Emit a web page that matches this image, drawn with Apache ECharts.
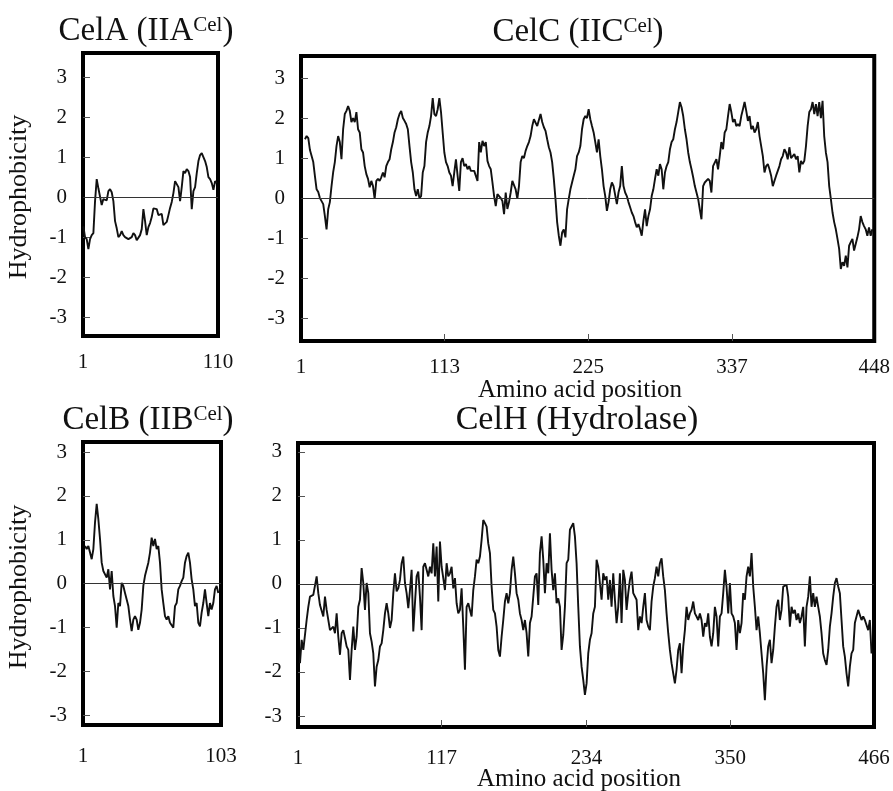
<!DOCTYPE html>
<html>
<head>
<meta charset="utf-8">
<script src="https://cdn.jsdelivr.net/npm/echarts@6/dist/echarts.min.js"></script>
<style>
	html, body { margin: 0; padding: 0; background: #fff; }
	#chart { width: 893px; height: 791px; }
</style>
</head>
<body>
<div id="chart"></div>
<script>
// hydrophobicity traces at even steps along each sequence
const celaValues = [
	-0.73, -1.0, -1.05, -1.3, -1.05, -0.95, -0.9, -0.1, 0.45, 0.22,
	0.25, -0.2, -0.05, -0.05, -0.08, 0.15, 0.2, 0.12, -0.1, -0.6,
	-0.78, -1.0, -0.95, -0.85, -0.95, -1.0, -1.03, -1.05, -1.05, -1.0,
	-0.9, -0.95, -1.08, -1.05, -0.95, -0.8, -0.3, -0.6, -0.95, -0.75,
	-0.65, -0.5, -0.28, -0.28, -0.3, -0.45, -0.45, -0.42, -0.7, -0.7,
	-0.62, -0.45, -0.27, -0.12, 0.1, 0.4, 0.4, 0.25, -0.1, 0.25,
	0.65, 0.6, 0.7, 0.65, 0.5, -0.3, 0.15, 0.25, 0.6, 0.9,
	1.05, 1.1, 1.0, 0.9, 0.75, 0.5, 0.45, 0.35, 0.18, 0.4, 0.35,
]
const celcValues = [
	1.47, 1.55, 1.5, 1.2, 1.05, 0.9, 0.55, 0.22, 0.15, 0.0,
	-0.03, -0.15, -0.45, -0.78, -0.28, -0.1, 0.3, 0.65, 0.9, 1.3,
	1.55, 1.4, 0.97, 1.72, 2.1, 2.18, 2.3, 2.18, 1.9, 2.0,
	1.9, 2.15, 1.72, 1.64, 1.22, 1.14, 0.8, 0.6, 0.48, 0.27,
	0.43, 0.3, -0.02, 0.43, 0.48, 0.43, 0.52, 0.64, 0.52, 0.8,
	0.9, 0.97, 1.22, 1.4, 1.64, 1.77, 1.97, 2.1, 2.18, 2.0,
	1.93, 1.85, 1.72, 1.3, 0.9, 0.64, 0.22, 0.05, 0.22, 0.0,
	0.05, 0.64, 0.8, 1.4, 1.64, 1.8, 2.05, 2.5, 2.1, 2.05,
	2.22, 2.5, 2.15, 1.64, 1.14, 0.9, 0.8, 0.64, 0.56, 0.3,
	0.64, 0.97, 0.56, 0.18, 0.9, 1.0, 0.8, 0.85, 0.72, 0.8,
	0.68, 0.72, 0.68, 0.68, 0.43, 1.4, 1.14, 1.43, 1.3, 1.4,
	0.93, 0.8, 0.72, 0.39, 0.05, -0.2, 0.1, 0.1, 0.0, -0.07,
	-0.4, 0.14, -0.27, -0.1, 0.14, 0.43, 0.39, 0.22, -0.02, 0.3,
	0.9, 1.05, 1.0, 1.18, 1.3, 1.4, 1.55, 1.8, 1.97, 2.0,
	1.8, 1.8, 2.1, 1.9, 1.77, 1.68, 1.47, 1.27, 1.14, 0.9,
	0.48, -0.02, -0.6, -0.94, -1.19, -0.86, -0.78, -0.98, -0.28, -0.02,
	0.22, 0.39, 0.56, 0.72, 1.05,
	1.14, 1.3, 1.72, 1.97, 2.05, 2.0, 2.22, 1.97, 1.8, 1.64,
	1.4, 1.14, 1.47, 1.05, 0.72, 0.3, 0.05, -0.32, -0.1, 0.22,
	0.39, 0.3, 0.3, -0.15, 0.14, 0.3, 0.8, 0.3, 0.14, 0.05,
	-0.1, -0.23, -0.36, -0.45, -0.6, -0.73, -0.65, -0.78, -0.94, -0.57,
	-0.28, -0.7, -0.45, -0.28, 0.05, 0.22, 0.48, 0.72, 0.56, 0.85,
	0.72, 0.22, 0.64, 0.8, 0.9, 1.22, 1.4, 1.47, 1.72, 1.9,
	2.15, 2.4, 2.27, 2.05, 1.72, 1.47, 1.14, 0.9, 0.72, 0.52,
	0.3, 0.14, -0.02, -0.28, -0.53, 0.3, 0.39, 0.43, 0.48, 0.43,
	0.14, 0.8, 0.8, 0.97, 0.72, 1.05, 1.4, 1.22, 1.64, 1.72,
	2.05, 2.35, 2.15, 1.9, 1.97, 1.8, 1.85, 1.8, 2.05, 2.22,
	2.4, 2.18, 1.93, 2.05, 1.72, 1.8, 1.64, 1.72, 1.9, 1.55,
	1.3, 1.05, 0.64, 0.8, 0.85, 0.72, 0.56, 0.3, 0.43, 0.56,
	0.56, 0.8, 0.97, 1.05, 1.22, 1.14, 0.97, 1.27, 1.0, 1.05,
	1.1, 0.97, 1.05, 0.64, 0.93, 0.85, 0.93, 1.3, 1.8, 2.15,
	2.22, 2.4, 2.1, 2.35, 2.05, 2.4, 2.0, 2.43, 1.55, 1.14,
	0.9, 0.3, -0.02, -0.36, -0.6, -0.78, -1.02, -1.27, -1.77, -1.6,
	-1.69, -1.44, -1.73, -1.19, -1.1, -1.02, -1.31, -1.27, -0.98, -0.78,
	-0.45, -0.6, -0.7, -0.78, -0.94, -0.73, -0.94, -0.78,
]
const celbValues = [
	0.86, 0.79, 0.86, 0.71, 0.56, 0.79, 1.4, 1.82, 1.47, 1.02,
	0.48, 0.29, 0.29, 0.14, 0.33, -0.13, 0.29, -0.28, -0.51, -1.0,
	-0.44, -0.51, 0.02, -0.05, -0.21, -0.36, -0.51, -0.82, -1.08, -0.82,
	-0.74, -0.82, -1.05, -0.89, -0.59, -0.05, 0.18, 0.33, 0.48, 0.71,
	1.05, 0.86, 1.02, 0.79, 0.86, 0.48, -0.13, -0.44, -0.74, -0.82,
	-0.74, -0.89, -0.93, -1.0, -0.51, -0.44, -0.13, -0.05, 0.06, 0.14,
	0.48, 0.63, 0.71, 0.48, 0.1, -0.13, -0.51, -0.44, -0.89, -0.97,
	-0.66, -0.44, -0.13, -0.44, -0.74, -0.44, -0.59, -0.44, -0.13, -0.05, -0.21,
]
const celhValues = [
	-1.8, -1.27, -1.5, -1.5, -0.82, -0.52, -0.29, -0.25, -0.25, -0.25,
	0.17, -0.21, -0.48, -0.44, -0.74, -0.29, -0.59, -0.59, -1.05, -1.05,
	-0.97, -1.12, -0.67, -1.2, -1.61, -1.12, -1.05, -1.23, -1.42, -1.5,
	-2.18, -1.5, -0.97, -1.5, -1.2, -0.52, -0.36, 0.36, 0.02, -0.59,
	0.02, -0.21, -1.12, -1.31, -1.58, -2.33, -1.88, -1.73, -1.42, -1.35,
	-1.05, -0.67, -0.44, -0.67, -1.0, -0.82, -0.21, 0.24, -0.17, -0.1,
	0.09, 0.47, 0.62, 0.02, -0.21, -0.55, -0.14, 0.32, -1.08, -0.44,
	0.17, 0.28, -0.29, -1.05, 0.39, 0.47, 0.32, 0.17, 0.39, 0.24,
	0.92, 0.17, 0.85, -0.4, 0.96, 0.39, 0.13, -0.14, 0.47, 0.17,
	0.24, 0.39, -0.1, 0.13, -0.44, -0.67, -0.59, -0.1, -0.97, -1.95,
	-0.52, -0.44, -0.4, -0.74, -0.14, 0.17, 0.55, 0.47, 0.62, 1.0,
	1.45, 1.38, 1.3, 0.92, 0.7, -0.06, -0.59, -0.67, -0.97, -1.5,
	-1.65, -1.2, -0.82, -0.4, -0.21, -0.44, -0.21, 0.32, 0.62, 0.24,
	-0.21, -0.36, -0.67, -0.82, -1.05, -0.82, -1.12, -1.65, -0.89, -0.74,
	-0.29, 0.17, 0.24, -0.48, 0.7, 1.08, 0.55, -0.21, 0.47, 0.24,
	1.15, 0.32, -0.14, 0.24, -0.44, -0.33, -0.52, -1.5, -1.16, -0.52,
	0.47, 0.55, 1.23, 1.23, 1.38, 1.08, 0.47, -0.52, -1.42,
	-1.88, -2.18, -2.52, -2.26, -1.58, -1.27, -1.12, -0.67, -0.52, 0.55,
	0.39, 0.39, -0.36, 0.24, 0.09, 0.17, -0.36, 0.09, -0.52, 0.24,
	-0.36, -0.89, -0.52, 0.24, -0.89, 0.32, 0.09, -0.59, -0.21, 0.09,
	0.28, -0.21, -0.21, -0.36, -1.05, -0.74, -0.89, -0.52, -0.21, -0.82,
	-0.97, -1.05, -0.4, -0.06, 0.13, 0.39, 0.17, 0.47, 0.58, 0.17,
	-0.14, -0.67, -1.12, -1.5, -1.8, -2.03, -2.26, -1.95, -1.5, -1.35,
	-2.03, -1.42, -1.05, -0.52, -0.82, -0.67, -0.59, -0.4, -0.67, -0.74,
	-0.82, -0.67, -0.82, -1.2, -0.89, -0.97, -0.67, -1.2, -1.42, -1.12,
	-0.52, -0.74, -1.42, -0.74, -0.67, -0.21, 0.32, -0.06, -0.67, 0.02,
	-0.67, -0.74, -0.89, -1.5, -0.82, -1.12, -0.89, -0.21, -0.36, 0.17,
	0.39, 0.17, 0.7, -0.06, -0.52, -1.05, -0.74, -1.12, -1.58, -2.03,
	-2.64, -1.88, -1.42, -1.27, -1.8, -1.5, -0.97, -0.52, -0.36, -0.82,
	-0.59, -0.06, -0.06, -0.02, -0.29, -0.97, -0.52, -0.67, -0.59, -0.82,
	-0.67, -0.89, -0.74, -0.52, -1.42, -0.52, -0.29, 0.17, -0.52, -0.21,
	-0.52, -0.29, -0.52, -0.74, -1.12, -1.58, -1.73, -1.84, -1.5, -0.97,
	-0.67, -0.29, 0.02, 0.13, -0.06, -0.21, -0.82, -1.42, -1.65, -2.03,
	-2.33, -1.88, -1.58, -1.5, -0.89, -0.86, -0.59, -0.55, -0.82, -0.74,
	-0.82, -0.82, -1.05, -0.82, -1.58,
]

// first and last residue covered by each trace
const celaSpan = [1.3, 109]
const celcSpan = [4.1, 446.5]
const celbSpan = [2.5, 101]
const celhSpan = [2.6, 464]

const celaLength = 110
const celcLength = 448
const celbLength = 103
const celhLength = 466

const celaXLabels = [1, 110]
const celcXLabels = [1, 113, 225, 337, 448]
const celcXTicks = [113, 225, 337]
const celbXLabels = [1, 103]
const celhXLabels = [1, 117, 234, 350, 466]
const celhXTicks = [117, 234, 350]
const yTicks = [-3, -2, -1, 0, 1, 2, 3]

const serif = "'Liberation Serif', 'Times New Roman', serif"
const ink = "#111"

const toPoints = (values, span) =>
	values.map((v, i) => [span[0] + (i * (span[1] - span[0])) / (values.length - 1), v])

const panels = [
	{ grid: { left: 83, top: 53, width: 135, height: 283 }, y: [-3.47, 3.6], len: celaLength, labels: celaXLabels, ticks: [], gap: 16, data: toPoints(celaValues, celaSpan) },
	{ grid: { left: 301, top: 56, width: 576, height: 285 }, y: [-3.57, 3.55], len: celcLength, labels: celcXLabels, ticks: celcXTicks, gap: 16, data: toPoints(celcValues, celcSpan) },
	{ grid: { left: 83, top: 442, width: 138, height: 283 }, y: [-3.22, 3.23], len: celbLength, labels: celbXLabels, ticks: [], gap: 21, data: toPoints(celbValues, celbSpan) },
	{ grid: { left: 298, top: 443, width: 576, height: 284 }, y: [-3.25, 3.2], len: celhLength, labels: celhXLabels, ticks: celhXTicks, gap: 21, data: toPoints(celhValues, celhSpan) },
]

const chartInstance = echarts.init(document.getElementById("chart"))

const titleText = (x, y, main, sup, size) => ({
	type: "text",
	x: x,
	y: y,
	style: {
		text: sup ? "{m|" + main + "}{s|" + sup + "}{m|)}" : "{m|" + main + "}",
		align: "center",
		verticalAlign: "middle",
		rich: {
			m: { fontSize: size, fontFamily: serif, fill: ink },
			s: { fontSize: 21, fontFamily: serif, fill: ink, verticalAlign: "top" },
		},
	},
})

const plainText = (x, y, text, size, rotation) => ({
	type: "text",
	x: x,
	y: y,
	rotation: rotation || 0,
	style: { text: text, fontSize: size, fontFamily: serif, fill: ink, align: "center", verticalAlign: "middle" },
})

chartInstance.setOption({
	animation: false,
	backgroundColor: "#fff",
	grid: panels.map((p) => ({
		...p.grid,
		show: true,
		borderColor: "#000",
		borderWidth: 4,
		backgroundColor: "transparent",
	})),
	xAxis: panels.map((p, i) => ({
		type: "value",
		gridIndex: i,
		position: "bottom",
		min: 1,
		max: p.len,
		axisLine: { show: false, onZero: false },
		splitLine: { show: false },
		axisTick: {
			show: p.ticks.length > 0,
			inside: true,
			length: 7,
			customValues: p.ticks,
			lineStyle: { color: "#555", width: 1 },
		},
		axisLabel: {
			customValues: p.labels,
			margin: p.gap,
			fontSize: 21,
			fontFamily: serif,
			color: ink,
		},
	})),
	yAxis: panels.map((p, i) => ({
		type: "value",
		gridIndex: i,
		min: p.y[0],
		max: p.y[1],
		axisLine: { show: false, onZero: false },
		splitLine: { show: false },
		axisTick: {
			inside: true,
			length: 7,
			customValues: yTicks,
			lineStyle: { color: "#555", width: 1 },
		},
		axisLabel: {
			customValues: yTicks,
			margin: 16,
			fontSize: 21,
			fontFamily: serif,
			color: ink,
		},
	})),
	series: panels.map((p, i) => ({
		type: "line",
		xAxisIndex: i,
		yAxisIndex: i,
		data: p.data,
		showSymbol: false,
		symbol: "none",
		lineStyle: { color: ink, width: 1.9 },
		markLine: {
			silent: true,
			symbol: "none",
			label: { show: false },
			lineStyle: { color: "#333", width: 1, type: "solid" },
			data: [{ yAxis: 0 }],
		},
	})),
	graphic: [
		titleText(146, 31, "CelA (IIA", "Cel", 33),
		titleText(578, 32, "CelC (IIC", "Cel", 33),
		titleText(148, 420, "CelB (IIB", "Cel", 33),
		titleText(577, 420, "CelH (Hydrolase)", null, 34),
		plainText(19, 197, "Hydrophobicity", 26, Math.PI / 2),
		plainText(19, 587, "Hydrophobicity", 26, Math.PI / 2),
		plainText(580, 390, "Amino acid position", 25),
		plainText(579, 779, "Amino acid position", 25),
	],
})

window.addEventListener("resize", () => {
	chartInstance.resize()
})
</script>
</body>
</html>
